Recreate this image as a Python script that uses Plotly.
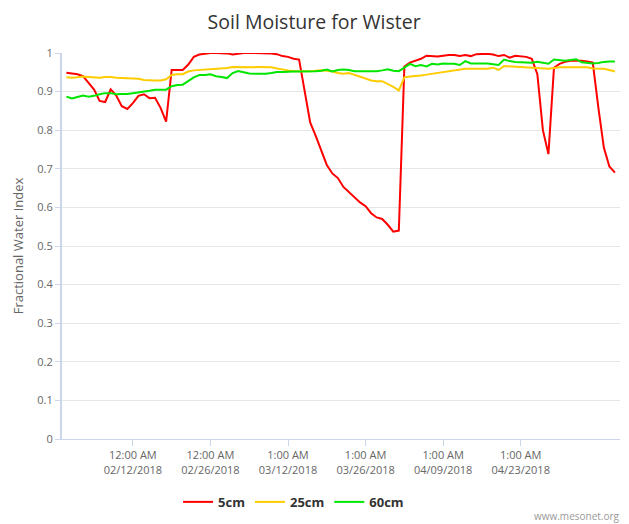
import pandas as pd
import plotly.graph_objects as go

# daily readings, 01/31/2018 .. 05/10/2018
dates = pd.date_range("2018-01-31", periods=100, freq="D")

fwi_5cm = [
    0.949, 0.947, 0.945, 0.940, 0.922, 0.905, 0.876, 0.873, 0.906, 0.890,
    0.862, 0.855, 0.870, 0.889, 0.893, 0.883, 0.884, 0.858, 0.822, 0.956,
    0.956, 0.956, 0.970, 0.990, 0.996, 0.998, 1.000, 1.000, 1.000, 0.999,
    0.996, 0.999, 1.000, 1.000, 1.000, 1.000, 1.000, 0.999, 0.997, 0.992,
    0.990, 0.985, 0.983, 0.900, 0.820, 0.785, 0.745, 0.710, 0.688, 0.676,
    0.653, 0.640, 0.625, 0.613, 0.603, 0.585, 0.574, 0.570, 0.555, 0.537,
    0.540, 0.965, 0.975, 0.980, 0.985, 0.993, 0.992, 0.991, 0.993, 0.995,
    0.995, 0.992, 0.995, 0.992, 0.997, 0.998, 0.998, 0.996, 0.992, 0.995,
    0.988, 0.993, 0.992, 0.990, 0.985, 0.945, 0.800, 0.738, 0.962, 0.972,
    0.977, 0.980, 0.980, 0.980, 0.978, 0.975, 0.860, 0.755, 0.706, 0.690,
]

fwi_25cm = [
    0.937, 0.936, 0.937, 0.939, 0.938, 0.937, 0.936, 0.938, 0.938, 0.936,
    0.935, 0.934, 0.934, 0.933, 0.930, 0.929, 0.929, 0.929, 0.932, 0.943,
    0.945, 0.945, 0.952, 0.955, 0.956, 0.958, 0.959, 0.960, 0.961, 0.961,
    0.964, 0.964, 0.964, 0.964, 0.964, 0.964, 0.964, 0.963, 0.960, 0.957,
    0.955, 0.953, 0.953, 0.952, 0.953, 0.954, 0.955, 0.954, 0.952, 0.948,
    0.946, 0.948, 0.944, 0.940, 0.934, 0.929, 0.927, 0.927, 0.920, 0.912,
    0.903, 0.937, 0.939, 0.940, 0.942, 0.944, 0.946, 0.948, 0.951, 0.954,
    0.956, 0.957, 0.959, 0.959, 0.959, 0.959, 0.959, 0.962, 0.956, 0.966,
    0.965, 0.964, 0.963, 0.962, 0.961, 0.960, 0.960, 0.959, 0.961, 0.963,
    0.963, 0.963, 0.963, 0.963, 0.963, 0.960, 0.959, 0.959, 0.956, 0.952,
]

fwi_60cm = [
    0.887, 0.882, 0.886, 0.890, 0.887, 0.889, 0.893, 0.896, 0.896, 0.893,
    0.894, 0.894, 0.896, 0.898, 0.899, 0.902, 0.905, 0.905, 0.905, 0.914,
    0.917, 0.918, 0.928, 0.937, 0.943, 0.943, 0.945, 0.940, 0.938, 0.935,
    0.948, 0.953, 0.950, 0.947, 0.946, 0.946, 0.946, 0.948, 0.951, 0.951,
    0.952, 0.952, 0.952, 0.952, 0.953, 0.953, 0.954, 0.957, 0.952, 0.956,
    0.957, 0.956, 0.953, 0.953, 0.953, 0.953, 0.953, 0.955, 0.958, 0.954,
    0.953, 0.962, 0.972, 0.966, 0.969, 0.965, 0.972, 0.970, 0.973, 0.972,
    0.972, 0.969, 0.979, 0.973, 0.973, 0.973, 0.973, 0.971, 0.969, 0.983,
    0.979, 0.977, 0.976, 0.976, 0.975, 0.977, 0.975, 0.972, 0.983, 0.982,
    0.980, 0.982, 0.984, 0.976, 0.974, 0.973, 0.974, 0.977, 0.978, 0.978,
]

tick_dates = ["2018-02-12", "2018-02-26", "2018-03-12", "2018-03-26", "2018-04-09", "2018-04-23"]
tick_labels = [
    "12:00 AM<br>02/12/2018", "12:00 AM<br>02/26/2018", "1:00 AM<br>03/12/2018",
    "1:00 AM<br>03/26/2018", "1:00 AM<br>04/09/2018", "1:00 AM<br>04/23/2018",
]

font = "Open Sans, Lato, sans-serif"

fig = go.Figure()
for name, vals, color in [("5cm", fwi_5cm, "#ff0000"),
                          ("25cm", fwi_25cm, "#ffcc00"),
                          ("60cm", fwi_60cm, "#00e600")]:
    fig.add_trace(go.Scatter(x=dates, y=vals, mode="lines", name=name,
                             line=dict(color=color, width=2)))

# page body adds an 8px margin, so the figure is 8px smaller than the window
fig.update_layout(
    width=621, height=516,
    margin=dict(l=54, r=9, t=45, b=85, autoexpand=False),
    plot_bgcolor="white", paper_bgcolor="white",
    font=dict(family=font, color="#666666", size=11),
    title=dict(text="Soil Moisture for Wister", x=0.493, xanchor="center",
               xref="container", yref="container", y=0.973, yanchor="middle",
               font=dict(family=font, size=19.5, color="#333333")),
    xaxis=dict(
        range=["2018-01-30 05:00", "2018-05-10 22:00"],
        tickvals=tick_dates, ticktext=tick_labels, tickangle=0,
        showgrid=False, zeroline=False, automargin=False,
        showline=True, linecolor="#ccd6eb", linewidth=1,
        ticks="outside", ticklen=6, tickcolor="#ccd6eb",
        tickfont=dict(size=11, color="#666666"),
    ),
    yaxis=dict(
        range=[0, 1], dtick=0.1, tick0=0, automargin=False,
        showgrid=True, gridcolor="#e6e6e6", zeroline=False,
        showline=True, linecolor="#ccd6eb", linewidth=2,
        ticks="outside", ticklen=5, tickcolor="#ccd6eb",
        tickfont=dict(size=11, color="#666666"),
        title=dict(text="Fractional Water Index", standoff=11,
                   font=dict(size=13, color="#666666")),
    ),
    legend=dict(orientation="h", x=0.415, xanchor="center",
                y=-0.163, yanchor="middle",
                font=dict(size=13, color="#333333", weight="bold")),
    annotations=[dict(text="www.mesonet.org", xref="paper", yref="paper",
                      x=1.004, y=-0.2, xanchor="right", yanchor="middle",
                      showarrow=False, font=dict(size=10, color="#999999"))],
)

fig.write_html("out.html")
